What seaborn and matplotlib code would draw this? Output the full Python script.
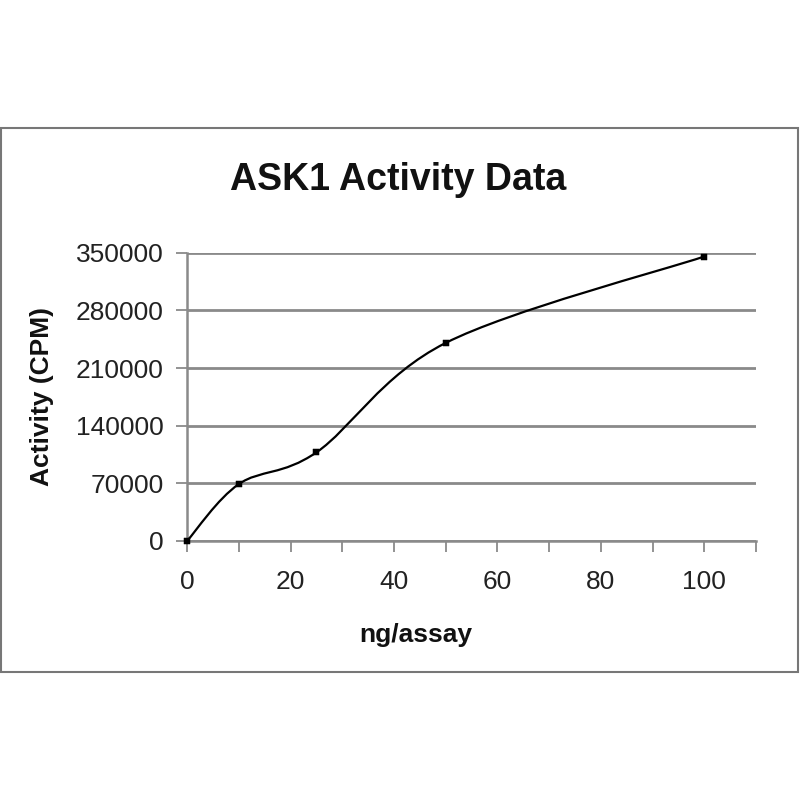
import matplotlib
matplotlib.use("Agg")
import matplotlib.pyplot as plt
import seaborn as sns
import pandas as pd
import numpy as np
from matplotlib.path import Path
from matplotlib.patches import PathPatch, Rectangle
from matplotlib.ticker import MultipleLocator

# data
ng_per_assay = [0, 10, 25, 50, 100]
activity_cpm = [0, 69000, 107500, 240500, 345500]

x_ticks = [0, 20, 40, 60, 80, 100]
y_ticks = [0, 70000, 140000, 210000, 280000, 350000]

title = "ASK1 Activity Data"
x_label = "ng/assay"
y_label = "Activity (CPM)"

GRAY = "#8a8a8a"

sns.set_theme(style="white")
plt.rcParams["font.family"] = ["Liberation Sans", "DejaVu Sans"]

df = pd.DataFrame({"ng": ng_per_assay, "cpm": activity_cpm})

fig = plt.figure(figsize=(8, 8), dpi=100)
fig.patch.set_facecolor("white")

# outer chart frame like the spreadsheet export
fig.patches.append(Rectangle((0.001, 0.16), 0.997, 0.68, transform=fig.transFigure,
                             fill=False, edgecolor="#777777", linewidth=1.5))

ax = fig.add_axes([0.234, 0.324, 0.711, 0.36])


def smooth_path(xs, ys):
    # Catmull-Rom style bezier through the points (spreadsheet "smoothed line")
    pts = np.column_stack([xs, ys]).astype(float)
    ext = np.vstack([pts[0], pts, pts[-1]])
    verts = [tuple(pts[0])]
    codes = [Path.MOVETO]
    for i in range(len(pts) - 1):
        p0, p1, p2, p3 = ext[i], ext[i + 1], ext[i + 2], ext[i + 3]
        c1 = p1 + (p2 - p0) / 6.0
        c2 = p2 - (p3 - p1) / 6.0
        verts += [tuple(c1), tuple(c2), tuple(p2)]
        codes += [Path.CURVE4] * 3
    return Path(verts, codes)


ax.add_patch(PathPatch(smooth_path(df["ng"], df["cpm"]), fill=False,
                       edgecolor="black", linewidth=1.6, zorder=3))
sns.scatterplot(data=df, x="ng", y="cpm", marker="s", s=20, color="black",
                edgecolor="black", zorder=4, ax=ax, clip_on=False)

ax.set_xlim(0, 110)
ax.set_ylim(0, 350000)
ax.set_xticks(x_ticks)
ax.xaxis.set_minor_locator(MultipleLocator(10))
ax.set_yticks(y_ticks)
ax.set_yticklabels([str(v) for v in y_ticks])
ax.yaxis.grid(True, color=GRAY, linewidth=2)
ax.set_axisbelow(True)

for side in ["top", "right"]:
    ax.spines[side].set_visible(False)
for side in ["left", "bottom"]:
    ax.spines[side].set_color(GRAY)
    ax.spines[side].set_linewidth(1.8)

ax.tick_params(axis="both", which="both", direction="out", color=GRAY,
               width=1.3, length=8, labelsize=19, labelcolor="#222222")
ax.tick_params(axis="x", which="both", bottom=True, pad=13)
ax.tick_params(axis="y", left=True, pad=9)
ax.set_xlabel("")
ax.set_ylabel("")

fig.text(0.498, 0.775, title, ha="center", va="center", fontsize=27,
         fontweight="bold", color="#111111")
fig.text(0.52, 0.206, x_label, ha="center", va="center", fontsize=19,
         fontweight="bold", color="#111111")
fig.text(0.052, 0.504, y_label, ha="center", va="center", rotation=90,
         fontsize=19, fontweight="bold", color="#111111")

fig.savefig("out.png", dpi=100, facecolor="white")
